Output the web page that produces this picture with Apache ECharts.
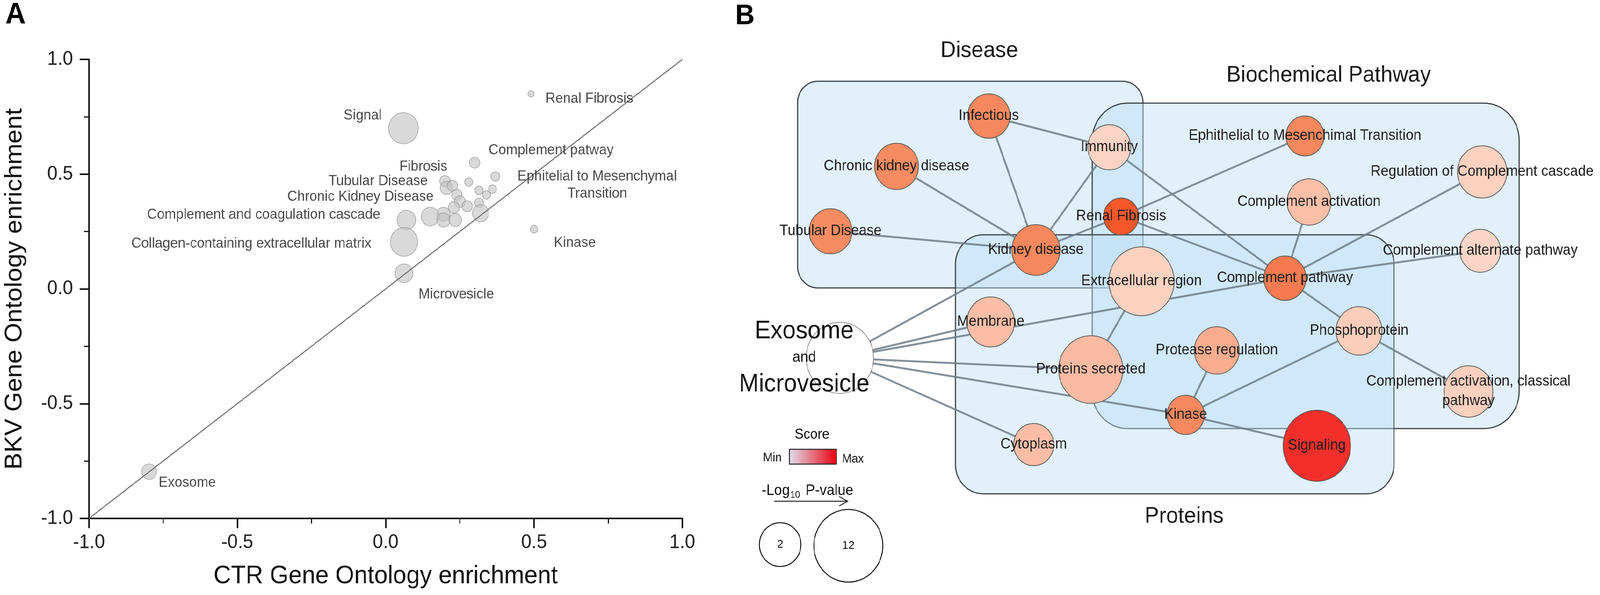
<!DOCTYPE html>
<html><head><meta charset="utf-8">
<script src="https://cdn.jsdelivr.net/npm/echarts@6/dist/echarts.min.js"></script>
<style>html,body{margin:0;padding:0;background:#fff;overflow:hidden}#c{width:4317px;height:1523px;transform-origin:0 0}</style>
</head><body><div id="c"></div>
<script>
// The viewport may be narrower than the 4317px design width: squeeze horizontally to fit.
(function () {
  const s = Math.min(1, window.innerWidth / 4317);
  document.getElementById('c').style.transform = 'scale(' + s + ',1)';
})();

// ================= PANEL A DATA =================
const tickLabelsA = ['-1.0', '-0.5', '0.0', '0.5', '1.0'];
const ctrEnrichment = [0.49, 0.06, 0.30, 0.37, 0.28, 0.20, 0.205, 0.225, 0.315, 0.36, 0.34, 0.24, 0.25, 0.275, 0.315, 0.32, 0.23, 0.195, 0.15, 0.195, 0.235, 0.07, 0.062, 0.062, 0.50, -0.797];
const bkvEnrichment = [0.85, 0.70, 0.55, 0.49, 0.465, 0.47, 0.44, 0.45, 0.43, 0.435, 0.41, 0.41, 0.38, 0.36, 0.375, 0.33, 0.355, 0.325, 0.315, 0.30, 0.30, 0.30, 0.205, 0.068, 0.26, -0.796];
const termWeight = [4.2, 20, 7, 6, 5.5, 7, 8.5, 7, 5.5, 5.5, 5.5, 7, 7.5, 7, 6, 11, 7.5, 9, 12, 9, 8.5, 12.5, 18.5, 12, 5, 10];
const annotationTexts = ['Signal', 'Renal Fibrosis', 'Complement patway', 'Fibrosis', 'Tubular Disease', 'Chronic Kidney Disease', 'Complement and coagulation cascade', 'Collagen-containing extracellular matrix', 'Microvesicle', 'Kinase', 'Ephitelial to Mesenchymal\nTransition', 'Exosome'];

// ================= PANEL B DATA =================
const nodeNames = ['Infectious', 'Chronic kidney disease', 'Tubular Disease', 'Immunity', 'Renal Fibrosis', 'Kidney disease', 'Extracellular region', 'Ephithelial to Mesenchimal Transition', 'Regulation of Complement cascade', 'Complement activation', 'Complement alternate pathway', 'Complement pathway', 'Exosome and Microvesicle', 'Membrane', 'Proteins secreted', 'Cytoplasm', 'Phosphoprotein', 'Protease regulation', 'Kinase', 'Signaling', 'Complement activation, classical pathway'];
const nodeLogP = [4.6, 5.1, 4.8, 4.8, 2.6, 6.3, 11.2, 3.4, 6.7, 5.1, 4.2, 4.6, 11.8, 6.1, 10.9, 4.0, 5.7, 5.4, 3.2, 11.8, 6.5];
const nodeScore = [0.66, 0.64, 0.64, 0.05, 0.86, 0.66, 0.08, 0.66, 0.08, 0.28, 0.03, 0.72, -1, 0.30, 0.33, 0.30, 0.12, 0.42, 0.66, 1.0, 0.10];
const edgeSource = ['Infectious', 'Infectious', 'Chronic kidney disease', 'Tubular Disease', 'Immunity', 'Immunity', 'Kidney disease', 'Renal Fibrosis', 'Renal Fibrosis', 'Exosome and Microvesicle', 'Exosome and Microvesicle', 'Exosome and Microvesicle', 'Exosome and Microvesicle', 'Exosome and Microvesicle', 'Exosome and Microvesicle', 'Extracellular region', 'Complement pathway', 'Complement pathway', 'Complement pathway', 'Complement pathway', 'Phosphoprotein', 'Phosphoprotein', 'Protease regulation', 'Kinase'];
const edgeTarget = ['Immunity', 'Kidney disease', 'Kidney disease', 'Kidney disease', 'Kidney disease', 'Complement pathway', 'Renal Fibrosis', 'Ephithelial to Mesenchimal Transition', 'Complement pathway', 'Kidney disease', 'Membrane', 'Complement pathway', 'Proteins secreted', 'Kinase', 'Cytoplasm', 'Proteins secreted', 'Complement activation', 'Regulation of Complement cascade', 'Complement alternate pathway', 'Phosphoprotein', 'Kinase', 'Complement activation, classical pathway', 'Kinase', 'Signaling'];
const groupNames = ['Disease', 'Biochemical Pathway', 'Proteins'];
const sizeLegendValues = ['2', '12'];

// ================= LAYOUT (positions, not data) =================
const annotationLayout = [
  [-0.013, 0.755, 'left'], [0.539, 0.828, 'right'], [0.347, 0.603, 'right'], [0.208, 0.532, 'left'],
  [0.142, 0.469, 'left'], [0.162, 0.401, 'left'], [-0.018, 0.323, 'left'], [-0.048, 0.197, 'left'],
  [0.111, -0.025, 'right'], [0.567, 0.200, 'right'], [0.713, 0.452, 'inside'], [-0.765, -0.845, 'right']
];
// network layout units (grid B)
const nodeLayout = [
  [67.8, 29.7], [42.9, 42.6], [25.1, 59.2], [100.3, 37.7], [103.5, 55.4], [80.5, 64.0], [109.0, 72.0],
  [153.1, 34.8], [200.9, 44.0], [154.2, 51.7], [200.4, 64.2], [147.7, 71.2], [27.6, 91.6], [68.3, 82.4],
  [95.3, 94.6], [79.9, 113.8], [167.7, 84.7], [129.3, 89.7], [120.9, 106.2], [156.3, 114.1], [197.2, 100.2]
];
const groupBoxLayout = [[16.2, 20.8, 109.4, 73.7], [95.7, 26.4, 210.9, 109.7], [58.8, 60.1, 177.1, 126.4]];
const groupTitleLayout = [[65.2, 13.0], [159.5, 19.3], [120.5, 132.2]];
const groupBoxRadius = [55, 95, 75];

const FONT = 'Liberation Sans, Arial, Helvetica, sans-serif';

const scoreStops = [[0, [252, 216, 202]], [0.33, [251, 186, 162]], [0.67, [247, 134, 92]], [0.86, [244, 88, 42]], [1, [244, 47, 43]]];
function scoreColor(s) {
  if (s < 0) return '#ffffff';
  for (let i = 1; i < scoreStops.length; i++) {
    const [s0, c0] = scoreStops[i - 1], [s1, c1] = scoreStops[i];
    if (s <= s1) {
      const t = (s - s0) / (s1 - s0);
      const c = c0.map((v, k) => Math.round(v + (c1[k] - v) * t));
      return 'rgb(' + c.join(',') + ')';
    }
  }
  return 'rgb(244,47,43)';
}

const nodeIndex = {};
nodeNames.forEach((n, i) => nodeIndex[n] = i);
const nodeLabelText = nodeNames.map(n => n === 'Complement activation, classical pathway' ? 'Complement activation, classical\npathway' : n);

const chart = echarts.init(document.getElementById('c'), null, {renderer: 'canvas', width: 4317, height: 1523});

const axisCommon = {
  type: 'value', min: -1, max: 1, interval: 0.5,
  axisLine: {show: true, onZero: false, lineStyle: {color: '#111', width: 4}},
  axisTick: {show: true, inside: false, length: 25, lineStyle: {color: '#111', width: 4}},
  minorTick: {show: true, splitNumber: 2, length: 13, lineStyle: {color: '#111', width: 3}},
  splitLine: {show: false},
  nameLocation: 'middle',
  nameTextStyle: {fontSize: 65, color: '#111', fontFamily: FONT}
};
const tickFmt = v => tickLabelsA[Math.round((v + 1) / 0.5)];

const option = {
  animation: false,
  backgroundColor: '#fff',
  textStyle: {fontFamily: FONT},
  grid: [
    {left: 240, top: 152, width: 1601, height: 1175},
    {left: 1990, top: 0, width: 2320, height: 1520}
  ],
  xAxis: [
    Object.assign({}, axisCommon, {gridIndex: 0, name: 'CTR Gene Ontology enrichment', nameGap: 116,
      axisLabel: {fontSize: 50, color: '#222', margin: 37, formatter: tickFmt, fontFamily: FONT}}),
    {gridIndex: 1, type: 'value', min: 0, max: 232, show: false}
  ],
  yAxis: [
    Object.assign({}, axisCommon, {gridIndex: 0, name: 'BKV Gene Ontology enrichment', nameGap: 167,
      axisLabel: {fontSize: 50, color: '#222', margin: 43, formatter: tickFmt, fontFamily: FONT}}),
    {gridIndex: 1, type: 'value', min: 0, max: 152, inverse: true, show: false}
  ],
  series: [
    {
      type: 'scatter', xAxisIndex: 0, yAxisIndex: 0, z: 2,
      data: ctrEnrichment.map((x, i) => [x, bkvEnrichment[i], termWeight[i]]),
      symbolSize: v => v[2] * 4,
      itemStyle: {color: 'rgba(196,196,196,0.8)', borderColor: '#8c8c8c', borderWidth: 1.5},
      silent: true
    },
    {
      type: 'line', xAxisIndex: 0, yAxisIndex: 0, z: 3,
      data: [[-1, -1], [1, 1]], showSymbol: false, symbol: 'none',
      lineStyle: {color: '#666', width: 2.5}, silent: true
    },
    {
      type: 'scatter', xAxisIndex: 0, yAxisIndex: 0, z: 4, symbolSize: 0,
      data: annotationTexts.map((t, i) => ({
        value: [annotationLayout[i][0], annotationLayout[i][1]],
        label: {show: true, formatter: t, position: annotationLayout[i][2], distance: 0,
          align: annotationLayout[i][2] === 'inside' ? 'center' : undefined}
      })),
      label: {show: true, fontSize: 37, color: '#1a1a1a', lineHeight: 44, fontFamily: FONT},
      silent: true
    },
    {
      type: 'custom', coordinateSystem: 'cartesian2d', xAxisIndex: 1, yAxisIndex: 1, z: 1, silent: true, clip: false,
      data: groupBoxLayout.map((b, i) => [b[0], b[1], b[2], b[3], i]),
      encode: {x: [0, 2], y: [1, 3]},
      renderItem: (params, api) => {
        const i = api.value(4);
        const p0 = api.coord([api.value(0), api.value(1)]);
        const p1 = api.coord([api.value(2), api.value(3)]);
        const t = api.coord(groupTitleLayout[i]);
        return {
          type: 'group', children: [
            {type: 'rect', shape: {x: p0[0], y: p0[1], width: p1[0] - p0[0], height: p1[1] - p0[1], r: groupBoxRadius[i]},
              style: {fill: 'rgba(188,222,246,0.45)', stroke: '#3b4248', lineWidth: 3}},
            {type: 'text', x: t[0], y: t[1], style: {text: groupNames[i], fontSize: 58, fontFamily: FONT, fill: '#1a1a1a', align: 'center', verticalAlign: 'middle'}}
          ]
        };
      }
    },
    {
      type: 'lines', coordinateSystem: 'cartesian2d', xAxisIndex: 1, yAxisIndex: 1, z: 2, silent: true,
      data: edgeSource.map((s, i) => ({coords: [nodeLayout[nodeIndex[s]], nodeLayout[nodeIndex[edgeTarget[i]]]]})),
      lineStyle: {color: 'rgba(112,126,136,0.85)', width: 5, opacity: 1, curveness: 0}
    },
    {
      type: 'scatter', xAxisIndex: 1, yAxisIndex: 1, z: 3, silent: true,
      data: nodeNames.map((n, i) => {
        const item = {
          name: n,
          value: [nodeLayout[i][0], nodeLayout[i][1], nodeLogP[i], nodeScore[i]],
          itemStyle: {color: scoreColor(nodeScore[i]), borderColor: nodeScore[i] < 0 ? '#8a8a8a' : '#5a5a5a'}
        };
        if (n === 'Exosome and Microvesicle') {
          item.label = {
            formatter: '{big|Exosome}\n{small|and}\n{big|Microvesicle}', offset: [-96, 0],
            rich: {big: {fontSize: 64, lineHeight: 68, color: '#111', fontFamily: FONT}, small: {fontSize: 38, lineHeight: 68, color: '#111', fontFamily: FONT}}
          };
        }
        return item;
      }),
      symbolSize: v => 70 + 9.5 * v[2],
      itemStyle: {borderWidth: 2, opacity: 1},
      label: {show: true, position: 'inside', formatter: p => nodeLabelText[p.dataIndex], fontSize: 38, lineHeight: 50, color: '#1e1e1e', fontFamily: FONT}
    }
  ],
  graphic: [
    {type: 'text', x: 42, y: 39, style: {text: 'A', fontSize: 76, fontWeight: 'bold', fontFamily: FONT, fill: '#000', align: 'center', verticalAlign: 'middle'}},
    {type: 'text', x: 2010, y: 42, style: {text: 'B', fontSize: 72, fontWeight: 'bold', fontFamily: FONT, fill: '#000', align: 'center', verticalAlign: 'middle'}},
    {type: 'text', x: 2191, y: 1113, style: {text: 'Score', fontSize: 36, fontFamily: FONT, fill: '#111', align: 'center', verticalAlign: 'middle'}},
    {type: 'rect', shape: {x: 2130, y: 1150, width: 127, height: 38},
      style: {fill: new echarts.graphic.LinearGradient(0, 0, 1, 0, [{offset: 0, color: '#dfdfec'}, {offset: 1, color: '#ea0010'}]), stroke: '#222', lineWidth: 2.5}},
    {type: 'text', x: 2109, y: 1172, style: {text: 'Min', fontSize: 31, fontFamily: FONT, fill: '#111', align: 'right', verticalAlign: 'middle'}},
    {type: 'text', x: 2272, y: 1175, style: {text: 'Max', fontSize: 31, fontFamily: FONT, fill: '#111', align: 'left', verticalAlign: 'middle'}},
    {type: 'text', x: 2055, y: 1257, style: {text: '-Log', fontSize: 38, fontFamily: FONT, fill: '#111', align: 'left', verticalAlign: 'middle'}},
    {type: 'text', x: 2132, y: 1267, style: {text: '10', fontSize: 24, fontFamily: FONT, fill: '#111', align: 'left', verticalAlign: 'middle'}},
    {type: 'text', x: 2163, y: 1257, style: {text: ' P-value', fontSize: 38, fontFamily: FONT, fill: '#111', align: 'left', verticalAlign: 'middle'}},
    {type: 'line', shape: {x1: 2089, y1: 1283, x2: 2286, y2: 1283}, style: {stroke: '#222', lineWidth: 2.5}},
    {type: 'polyline', shape: {points: [[2264, 1271], [2287, 1283], [2264, 1295]]}, style: {stroke: '#222', lineWidth: 2.5, fill: null}},
    {type: 'circle', shape: {cx: 2105, cy: 1394, r: 56}, style: {stroke: '#111', lineWidth: 2.5, fill: '#fff'}},
    {type: 'circle', shape: {cx: 2289, cy: 1397, r: 93}, style: {stroke: '#111', lineWidth: 2.5, fill: '#fff'}},
    {type: 'text', x: 2105, y: 1394, style: {text: sizeLegendValues[0], fontSize: 30, fontFamily: FONT, fill: '#111', align: 'center', verticalAlign: 'middle'}},
    {type: 'text', x: 2289, y: 1397, style: {text: sizeLegendValues[1], fontSize: 30, fontFamily: FONT, fill: '#111', align: 'center', verticalAlign: 'middle'}}
  ]
};
chart.setOption(option);
</script>
</body></html>
